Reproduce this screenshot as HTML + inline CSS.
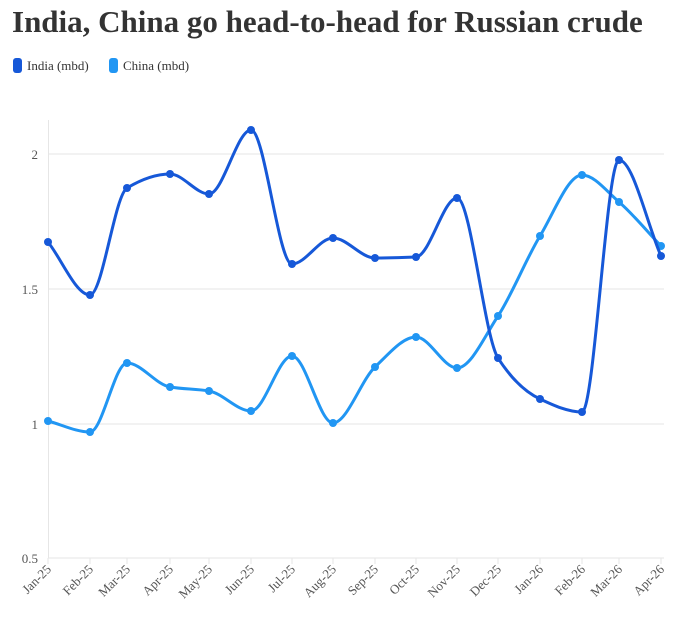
<!DOCTYPE html>
<html><head><meta charset="utf-8"><style>
body{margin:0;background:#fff;width:684px;height:627px;overflow:hidden;font-family:"Liberation Serif",serif}
h1{position:absolute;left:12px;top:4px;margin:0;font-size:31px;font-weight:bold;color:#333;white-space:nowrap}
</style></head><body>
<h1>India, China go head-to-head for Russian crude</h1>
<svg id="s" width="684" height="627" style="position:absolute;left:0;top:0" font-family="Liberation Serif, serif">
<rect x="13" y="58" width="9" height="15" rx="3" fill="#1658d8"/>
<text x="27" y="70" font-size="13" fill="#333">India (mbd)</text>
<rect x="109" y="58" width="9" height="15" rx="3" fill="#2196f3"/>
<text x="123" y="70" font-size="13" fill="#333">China (mbd)</text>
<g stroke="#e6e6e6" stroke-width="1">
<line x1="48" y1="154" x2="664" y2="154"/><line x1="48" y1="289" x2="664" y2="289"/>
<line x1="48" y1="424" x2="664" y2="424"/><line x1="48" y1="558" x2="664" y2="558"/>
<line x1="48.5" y1="120" x2="48.5" y2="558"/>
</g>
<g font-size="13" fill="#555" text-anchor="end">
<text x="38" y="159">2</text><text x="38" y="294">1.5</text><text x="38" y="429">1</text><text x="38" y="563">0.5</text>
</g>
<g id="g"></g>
</svg>
<script>
var xs=[48,90,127,170,209,251,292,333,375,416,457,498,540,582,619,661];
var lab=["Jan-25","Feb-25","Mar-25","Apr-25","May-25","Jun-25","Jul-25","Aug-25","Sep-25","Oct-25","Nov-25","Dec-25","Jan-26","Feb-26","Mar-26","Apr-26"];
var ind=[242,295,188,174,194,130,264,238,258,257,198,358,399,412,160,256];
var chi=[421,432,363,387,391,411,356,423,367,337,368,316,236,175,202,246];
var g=document.getElementById('g'),h='';
xs.forEach(function(x,i){h+='<line x1="'+x+'" y1="558" x2="'+x+'" y2="564" stroke="#e6e6e6"/>';
h+='<text font-size="13" fill="#555" text-anchor="end" transform="translate('+(x+4)+',570) rotate(-45)">'+lab[i]+'</text>';});
function mono(X,Y){var n=X.length,d=[],m=[];for(var i=0;i<n-1;i++)d.push((Y[i+1]-Y[i])/(X[i+1]-X[i]));
m[0]=d[0];m[n-1]=d[n-2];for(i=1;i<n-1;i++){if(d[i-1]*d[i]<=0)m[i]=0;else{var a=X[i]-X[i-1],b=X[i+1]-X[i];m[i]=3*(a+b)/((2*b+a)/d[i-1]+(b+2*a)/d[i]);}}
var p='M'+X[0]+','+Y[0];for(i=0;i<n-1;i++){var hh=(X[i+1]-X[i])/3;p+='C'+(X[i]+hh)+','+(Y[i]+m[i]*hh)+' '+(X[i+1]-hh)+','+(Y[i+1]-m[i+1]*hh)+' '+X[i+1]+','+Y[i+1];}return p;}
[[chi,'#2196f3'],[ind,'#1658d8']].forEach(function(s){h+='<path d="'+mono(xs,s[0])+'" fill="none" stroke="'+s[1]+'" stroke-width="3"/>';
xs.forEach(function(x,i){h+='<circle cx="'+x+'" cy="'+s[0][i]+'" r="4" fill="'+s[1]+'"/>';});});
g.innerHTML=h;
</script>
</body></html>
